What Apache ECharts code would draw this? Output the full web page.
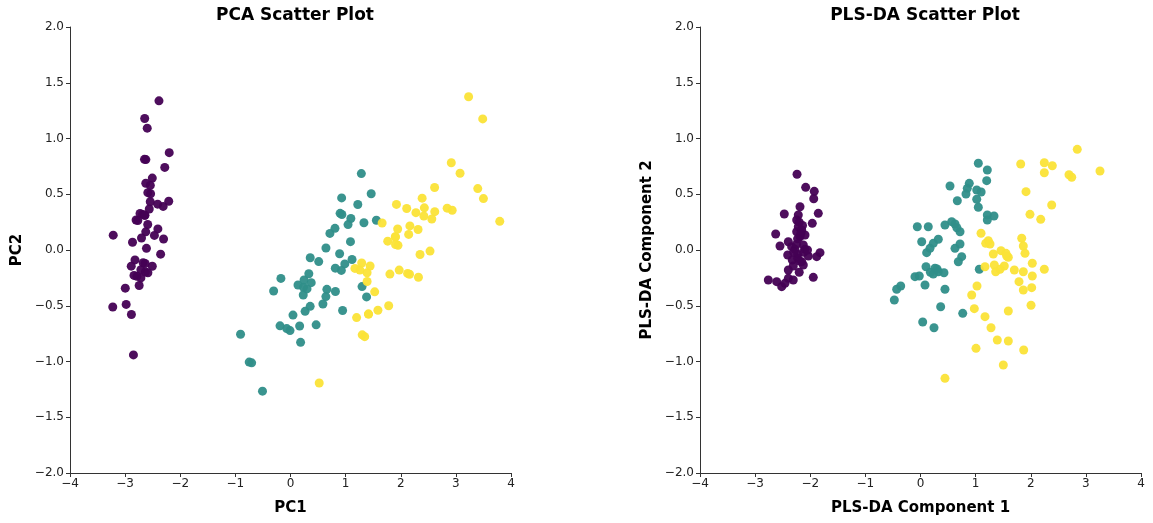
<!DOCTYPE html>
<html><head><meta charset="utf-8">
<script src="https://cdn.jsdelivr.net/npm/echarts@6/dist/echarts.min.js"></script>
<style>html,body{margin:0;padding:0;background:#fff}#c{width:1153px;height:523px}</style>
</head><body><div id="c"></div>
<script>
const classNames = ['setosa','versicolor','virginica'];
const classColors = ['#440154','#2f8e89','#fbe337'];
const xTicks = [-4,-3,-2,-1,0,1,2,3,4];
const yTicks = [-2.0,-1.5,-1.0,-0.5,0.0,0.5,1.0,1.5,2.0];

const pcaSetosa = [[-2.684,0.319],[-2.714,-0.177],[-2.889,-0.145],[-2.745,-0.318],[-2.729,0.327],[-2.281,0.741],[-2.821,-0.089],[-2.626,0.163],[-2.886,-0.578],[-2.673,-0.114],[-2.507,0.645],[-2.613,0.015],[-2.786,-0.235],[-3.224,-0.511],[-2.645,1.179],[-2.386,1.338],[-2.624,0.811],[-2.648,0.312],[-2.200,0.873],[-2.588,0.514],[-2.310,0.391],[-2.544,0.433],[-3.216,0.133],[-2.303,0.099],[-2.356,-0.037],[-2.507,-0.146],[-2.469,0.131],[-2.562,0.368],[-2.640,0.312],[-2.632,-0.197],[-2.587,-0.204],[-2.410,0.411],[-2.649,0.813],[-2.599,1.093],[-2.637,-0.121],[-2.866,0.069],[-2.625,0.599],[-2.801,0.269],[-2.981,-0.488],[-2.590,0.229],[-2.770,0.264],[-2.849,-0.941],[-2.997,-0.342],[-2.406,0.189],[-2.209,0.437],[-2.714,-0.250],[-2.538,0.504],[-2.839,-0.228],[-2.543,0.579],[-2.703,0.108]];
const pcaVersicolor = [[1.285,0.685],[0.932,0.318],[1.464,0.504],[0.183,-0.828],[1.088,0.075],[0.642,-0.418],[1.095,0.283],[-0.749,-1.005],[1.044,0.228],[-0.009,-0.723],[-0.508,-1.266],[0.512,-0.104],[0.265,-0.550],[0.985,-0.125],[-0.174,-0.255],[0.928,0.467],[0.660,-0.353],[0.236,-0.334],[0.945,-0.543],[0.045,-0.584],[1.116,-0.085],[0.358,-0.069],[1.298,-0.328],[0.922,-0.183],[0.715,0.149],[0.900,0.329],[1.332,0.244],[1.558,0.267],[0.813,-0.163],[-0.306,-0.368],[-0.068,-0.705],[-0.190,-0.680],[0.136,-0.314],[1.380,-0.421],[0.588,-0.484],[0.807,0.194],[1.221,0.408],[0.815,-0.372],[0.246,-0.269],[0.166,-0.682],[0.465,-0.671],[0.891,-0.034],[0.231,-0.404],[-0.705,-1.012],[0.357,-0.505],[0.332,-0.213],[0.376,-0.293],[0.643,0.018],[-0.906,-0.756],[0.299,-0.349]];
const pcaVirginica = [[2.531,-0.010],[1.415,-0.575],[2.617,0.344],[1.972,-0.180],[2.350,-0.040],[3.397,0.551],[0.521,-1.193],[2.933,0.356],[2.321,-0.244],[2.917,0.783],[1.662,0.242],[1.803,-0.216],[2.166,0.216],[1.346,-0.777],[1.586,-0.540],[1.904,0.119],[1.950,0.042],[3.487,1.176],[3.796,0.257],[1.301,-0.761],[2.428,0.378],[1.199,-0.606],[3.500,0.461],[1.389,-0.204],[2.275,0.335],[2.614,0.561],[1.259,-0.180],[1.291,-0.117],[2.124,-0.210],[2.388,0.465],[2.842,0.375],[3.231,1.374],[2.159,-0.217],[1.444,-0.143],[1.781,-0.500],[3.076,0.688],[2.144,0.140],[1.905,0.049],[1.169,-0.165],[2.108,0.372],[2.314,0.184],[1.922,0.409],[1.415,-0.575],[2.563,0.278],[2.419,0.305],[1.944,0.188],[1.527,-0.375],[1.764,0.079],[1.901,0.117],[1.390,-0.283]];

const plsSetosa = [[-2.240,0.679],[-2.083,0.562],[-1.927,0.526],[-1.937,0.460],[-2.186,0.388],[-2.471,0.323],[-1.854,0.329],[-2.217,0.314],[-2.246,0.269],[-1.963,0.239],[-2.217,0.209],[-2.155,0.179],[-2.246,0.164],[-2.627,0.143],[-2.186,0.119],[-2.095,0.135],[-2.398,0.074],[-2.549,0.036],[-2.126,0.045],[-2.337,0.030],[-2.277,0.006],[-2.095,0.006],[-1.823,-0.024],[-2.409,-0.045],[-2.228,-0.039],[-2.035,-0.054],[-1.883,-0.060],[-2.326,-0.090],[-2.155,-0.105],[-2.228,-0.075],[-2.308,-0.143],[-2.126,-0.135],[-2.398,-0.179],[-2.761,-0.269],[-2.609,-0.284],[-2.398,-0.254],[-2.308,-0.269],[-1.945,-0.245],[-2.518,-0.329],[-2.458,-0.299],[-2.200,0.250],[-2.170,0.150],[-2.230,0.100],[-2.140,0.220],[-2.250,0.050],[-2.120,-0.020],[-2.190,-0.100],[-2.300,-0.020],[-2.050,0.000],[-2.200,-0.200]];
const plsVersicolor = [[1.049,0.778],[1.212,0.717],[1.201,0.622],[0.535,0.574],[0.885,0.598],[0.849,0.553],[1.020,0.538],[0.825,0.502],[0.668,0.442],[1.020,0.455],[1.049,0.383],[1.212,0.314],[1.333,0.305],[1.212,0.269],[-0.058,0.209],[0.141,0.209],[0.444,0.224],[0.566,0.254],[0.626,0.233],[0.717,0.164],[0.022,0.074],[0.323,0.096],[0.232,0.060],[0.172,0.015],[0.112,-0.024],[0.717,0.054],[0.626,0.015],[0.747,-0.060],[0.686,-0.105],[0.100,-0.150],[0.263,-0.164],[0.323,-0.195],[0.426,-0.204],[0.232,-0.215],[-0.100,-0.239],[-0.022,-0.233],[0.082,-0.314],[-0.359,-0.323],[-0.432,-0.352],[-0.475,-0.448],[0.444,-0.352],[0.366,-0.509],[1.067,-0.173],[0.766,-0.568],[0.040,-0.646],[0.245,-0.697],[0.300,-0.170],[0.180,-0.200],[0.660,0.200],[1.100,0.520]];
const plsVirginica = [[2.844,0.903],[1.818,0.771],[2.246,0.783],[2.391,0.756],[2.246,0.693],[2.694,0.675],[2.743,0.652],[1.914,0.523],[2.380,0.404],[1.986,0.320],[2.181,0.275],[1.098,0.150],[1.230,0.083],[1.183,0.060],[1.836,0.105],[1.865,0.036],[1.896,-0.030],[1.321,-0.036],[1.460,-0.006],[1.564,-0.054],[1.593,-0.065],[1.170,-0.150],[1.339,-0.135],[1.520,-0.143],[1.442,-0.173],[1.364,-0.195],[1.702,-0.179],[1.865,-0.195],[2.028,-0.119],[2.246,-0.173],[2.028,-0.233],[1.787,-0.284],[1.865,-0.359],[2.017,-0.338],[1.025,-0.323],[0.929,-0.404],[2.005,-0.496],[0.976,-0.526],[1.593,-0.547],[1.170,-0.598],[1.279,-0.697],[1.393,-0.807],[1.593,-0.816],[1.007,-0.882],[1.872,-0.897],[1.502,-1.031],[0.444,-1.151],[3.256,0.709],[1.261,0.054],[1.550,-0.030]];

const chart = echarts.init(document.getElementById('c'), null, {renderer:'canvas'});
const FONT = 'DejaVu Sans';
const minus = s => String(s).replace('-', '\u2212');
function xAxis(gi, name){
  return {type:'value', gridIndex:gi, min:-4, max:4, interval:1,
    name:name, nameLocation:'middle', nameGap:28,
    nameTextStyle:{fontFamily:FONT, fontWeight:'bold', fontSize:15, color:'#000'},
    axisLine:{show:true, onZero:false, lineStyle:{color:'#333', width:1}},
    axisTick:{show:true, length:4, lineStyle:{color:'#333'}},
    axisLabel:{fontFamily:FONT, fontSize:12, color:'#222', margin:5, formatter:v=>minus(v)},
    splitLine:{show:false}};
}
function yAxis(gi, name){
  return {type:'value', gridIndex:gi, min:-2, max:2, interval:0.5,
    name:name, nameLocation:'middle', nameGap:45,
    nameTextStyle:{fontFamily:FONT, fontWeight:'bold', fontSize:15, color:'#000'},
    axisLine:{show:true, onZero:false, lineStyle:{color:'#333', width:1}},
    axisTick:{show:true, length:4, lineStyle:{color:'#333'}},
    axisLabel:{fontFamily:FONT, fontSize:12, color:'#222', margin:6, formatter:v=>minus(v.toFixed(1))},
    splitLine:{show:false}};
}
function sc(data, ci, gi){
  return {type:'scatter', xAxisIndex:gi, yAxisIndex:gi, data:data, symbolSize:9,
    name:classNames[ci], itemStyle:{color:classColors[ci], opacity:0.95}, silent:true, animation:false};
}
chart.setOption({
  backgroundColor:'#fff', animation:false,
  title:[
    {text:'PCA Scatter Plot', left:290, top:2, textAlign:'center', textStyle:{fontFamily:FONT, fontWeight:'bold', fontSize:17, color:'#000'}},
    {text:'PLS-DA Scatter Plot', left:920, top:2, textAlign:'center', textStyle:{fontFamily:FONT, fontWeight:'bold', fontSize:17, color:'#000'}}
  ],
  grid:[
    {left:70, top:27, width:441, height:446},
    {left:700, top:27, width:441, height:446}
  ],
  xAxis:[xAxis(0,'PC1'), xAxis(1,'PLS-DA Component 1')],
  yAxis:[yAxis(0,'PC2'), yAxis(1,'PLS-DA Component 2')],
  series:[
    sc(pcaSetosa,0,0), sc(pcaVersicolor,1,0), sc(pcaVirginica,2,0),
    sc(plsSetosa,0,1), sc(plsVersicolor,1,1), sc(plsVirginica,2,1)
  ]
});
</script></body></html>
